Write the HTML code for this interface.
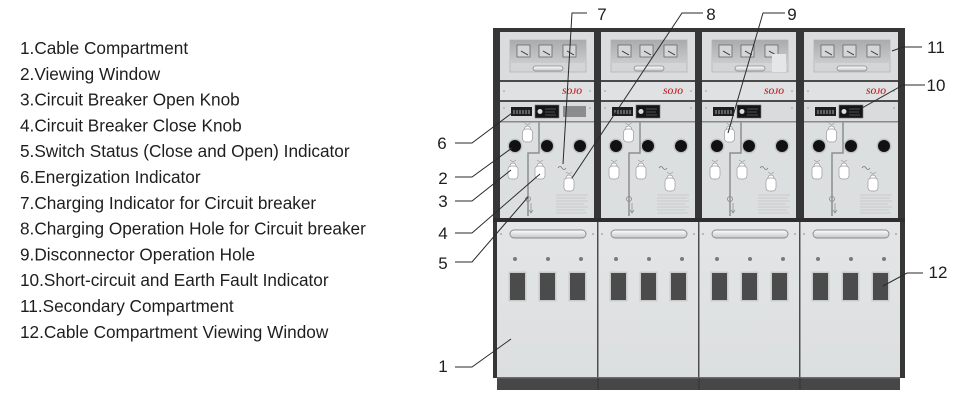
<!DOCTYPE html>
<html><head><meta charset="utf-8"><style>
html,body{margin:0;padding:0;background:#fff;}
svg{display:block;}
text{font-family:"Liberation Sans",sans-serif;}
</style></head><body>
<svg width="961" height="401" viewBox="0 0 961 401" xmlns="http://www.w3.org/2000/svg">
<defs>
<linearGradient id="rec" x1="0" y1="0" x2="0" y2="1"><stop offset="0" stop-color="#a9abac"/><stop offset="1" stop-color="#c9cbcc"/></linearGradient>
<linearGradient id="hd" x1="0" y1="0" x2="0" y2="1"><stop offset="0" stop-color="#ffffff"/><stop offset="1" stop-color="#c4c6c7"/></linearGradient>
<linearGradient id="doorg" x1="0" y1="0" x2="0" y2="1"><stop offset="0" stop-color="#e3e5e6"/><stop offset="1" stop-color="#dcdfe0"/></linearGradient>
<g id="knob"><circle cx="0" cy="3" r="3" fill="#fff" stroke="#9a9a9a" stroke-width=".7"/><rect x="-5" y="3" width="10" height="13" rx="3.5" fill="#fff" stroke="#9a9a9a" stroke-width=".7"/><path d="M-3 -3 L0 -1 L3 -3" fill="none" stroke="#999" stroke-width=".6"/></g>
<g id="hole"><circle r="7.5" fill="#bfc1c2"/><circle r="6" fill="#111"/></g>
<g id="panel">
<rect x="0" y="32" width="94" height="48" fill="#dadcdd"/>
<rect x="10" y="40" width="76" height="32" fill="#d3d5d6" stroke="#b3b5b6" stroke-width=".8"/>
<rect x="10" y="40" width="76" height="23" fill="url(#rec)"/>
<rect x="17" y="45" width="13" height="12" fill="#d4d6d7" stroke="#686868" stroke-width=".8"/>
<rect x="39" y="45" width="13" height="12" fill="#d4d6d7" stroke="#686868" stroke-width=".8"/>
<rect x="63" y="45" width="13" height="12" fill="#d4d6d7" stroke="#686868" stroke-width=".8"/>
<path d="M21 51 L28 55 M43 51 L50 55 M67 51 L74 55" stroke="#333" stroke-width="1"/>
<rect x="33" y="66" width="30" height="5" rx="2.5" fill="url(#hd)" stroke="#8a8a8a" stroke-width=".8"/>
<rect x="0" y="80" width="94" height="2" fill="#4a4a4a"/>
<rect x="0" y="82" width="94" height="18" fill="#dfe1e2"/>
<text x="62" y="94" font-style="italic" font-weight="bold" font-size="8" fill="#c0282d" style="font-family:'Liberation Serif',serif">SOJO</text>
<circle cx="4" cy="91" r=".8" fill="#999"/><circle cx="90" cy="91" r=".8" fill="#999"/>
<rect x="0" y="100" width="94" height="2" fill="#4a4a4a"/>
<rect x="0" y="102" width="94" height="19" fill="#d9dbdc"/>
<rect x="11" y="107" width="21" height="9" fill="#1e1e1e"/>
<path d="M14 110 V114 M17 110 V114 M20 110 V114 M23 110 V114 M26 110 V114 M29 110 V114" stroke="#ccc" stroke-width=".8"/>
<rect x="35" y="105" width="24" height="13" fill="#151515" stroke="#777" stroke-width=".6"/>
<circle cx="40" cy="111.5" r="2.5" fill="#ddd"/>
<path d="M45 109 H56 M45 112 H55 M45 115 H56" stroke="#888" stroke-width=".6"/>
<circle cx="4" cy="108" r=".8" fill="#999"/><circle cx="90" cy="108" r=".8" fill="#999"/>
<rect x="0" y="121" width="94" height="1.5" fill="#8a8a8a"/>
<rect x="0" y="122.5" width="94" height="95.5" fill="#dcdfe0"/>
<path d="M39 122 V153 H28 V216" fill="none" stroke="#8d8d8d" stroke-width="1.5"/>
<circle cx="28" cy="199" r="2.5" fill="none" stroke="#888" stroke-width=".8"/>
<path d="M31 203 V213 M29 210 L31 213 L33 210" fill="none" stroke="#888" stroke-width=".7"/>
<use href="#knob" x="27.5" y="126"/>
<use href="#hole" x="15" y="146"/>
<use href="#hole" x="47" y="146"/>
<use href="#hole" x="80" y="146"/>
<use href="#knob" x="13" y="163"/>
<use href="#knob" x="40" y="163"/>
<use href="#knob" x="69" y="175"/>
<path d="M58 168 q2 -3 4 0 q2 3 4 0" fill="none" stroke="#777" stroke-width=".7"/>
<path d="M56 195 H88 M56 198 H86 M56 201 H88 M56 204 H84 M56 207 H88 M56 210 H85 M56 213 H87" stroke="#c2c4c5" stroke-width=".8"/>
</g>
<g id="doorunit">
<rect x="0" y="222" width="100" height="155" fill="url(#doorg)"/>
<rect x="13" y="230" width="76" height="8" rx="4" fill="url(#hd)" stroke="#8a8a8a" stroke-width=".9"/>
<circle cx="4" cy="234" r=".9" fill="#999"/><circle cx="96" cy="234" r=".9" fill="#999"/>
<circle cx="18" cy="259" r="2" fill="#7a7a7a"/><circle cx="51" cy="259" r="2" fill="#7a7a7a"/><circle cx="84" cy="259" r="2" fill="#7a7a7a"/>
<rect x="11.5" y="271.5" width="18" height="30" fill="#c9cbcc"/>
<rect x="41.5" y="271.5" width="18" height="30" fill="#c9cbcc"/>
<rect x="71.5" y="271.5" width="18" height="30" fill="#c9cbcc"/>
<rect x="13" y="273" width="15" height="27" fill="#4b4b4b"/>
<rect x="43" y="273" width="15" height="27" fill="#4b4b4b"/>
<rect x="73" y="273" width="15" height="27" fill="#4b4b4b"/>
</g>
</defs>
<rect width="961" height="401" fill="#fff"/>

<!-- left legend -->
<g font-size="17.2" fill="#1e1e1e">
<text x="20" y="54">1.Cable Compartment</text>
<text x="20" y="79.8">2.Viewing Window</text>
<text x="20" y="105.6">3.Circuit Breaker Open Knob</text>
<text x="20" y="131.4">4.Circuit Breaker Close Knob</text>
<text x="20" y="157.2">5.Switch Status (Close and Open) Indicator</text>
<text x="20" y="183">6.Energization Indicator</text>
<text x="20" y="208.8">7.Charging Indicator for Circuit breaker</text>
<text x="20" y="234.6">8.Charging Operation Hole for Circuit breaker</text>
<text x="20" y="260.4">9.Disconnector Operation Hole</text>
<text x="20" y="286.2">10.Short-circuit and Earth Fault Indicator</text>
<text x="20" y="312">11.Secondary Compartment</text>
<text x="20" y="337.8">12.Cable Compartment Viewing Window</text>
</g>

<!-- cabinet frame -->
<rect x="493" y="28" width="412" height="350" fill="#363636"/>
<use href="#panel" x="500" y="0"/>
<use href="#panel" x="601" y="0"/>
<use href="#panel" x="702" y="0"/>
<use href="#panel" x="804" y="0"/>
<!-- panel1 extra grey box -->
<rect x="563" y="106" width="23" height="11" fill="#8c8c8c"/>
<!-- panel 3 light patch -->
<rect x="772" y="54" width="14" height="18" fill="#e4e6e7"/>
<rect x="493" y="218" width="412" height="4" fill="#2e2e2e"/>
<use href="#doorunit" x="497" y="0"/>
<use href="#doorunit" x="598" y="0"/>
<use href="#doorunit" x="699" y="0"/>
<use href="#doorunit" x="800" y="0"/>
<rect x="597.3" y="222" width="1.2" height="155" fill="#555"/>
<rect x="698.3" y="222" width="1.2" height="155" fill="#555"/>
<rect x="799.3" y="222" width="1.2" height="155" fill="#555"/>
<!-- plinth -->
<rect x="497" y="377" width="403" height="13" fill="#474747"/>
<rect x="497" y="377" width="403" height="1.5" fill="#6a6a6a"/>
<rect x="597.5" y="378" width="1" height="12" fill="#333"/>
<rect x="698.5" y="378" width="1" height="12" fill="#333"/>
<rect x="799.5" y="378" width="1" height="12" fill="#333"/>

<!-- callouts -->
<g fill="none" stroke="#2a2a2a" stroke-width="1">
<path d="M455 143 H472 L512 113"/>
<path d="M455 177 H472 L512 148"/>
<path d="M455 201 H472 L511 170"/>
<path d="M455 233 H472 L540 174"/>
<path d="M455 262 H472 L528 197"/>
<path d="M455 367 H472 L511 339"/>
<path d="M587 13 H572 L563 164"/>
<path d="M703 13 H682 L572 178"/>
<path d="M785 13 H763 L728 133"/>
<path d="M922 47 H903 L892 51"/>
<path d="M925 85 H903 L862 108"/>
<path d="M923 273 H907 L883 286"/>
</g>
<g font-size="17" fill="#1e1e1e" text-anchor="middle">
<text x="442" y="149">6</text>
<text x="443" y="184">2</text>
<text x="443" y="207">3</text>
<text x="443" y="239">4</text>
<text x="443" y="269">5</text>
<text x="443" y="372">1</text>
<text x="602" y="20">7</text>
<text x="711" y="20">8</text>
<text x="792" y="20">9</text>
<text x="936" y="53">11</text>
<text x="936" y="91">10</text>
<text x="938" y="278">12</text>
</g>
</svg>
</body></html>
